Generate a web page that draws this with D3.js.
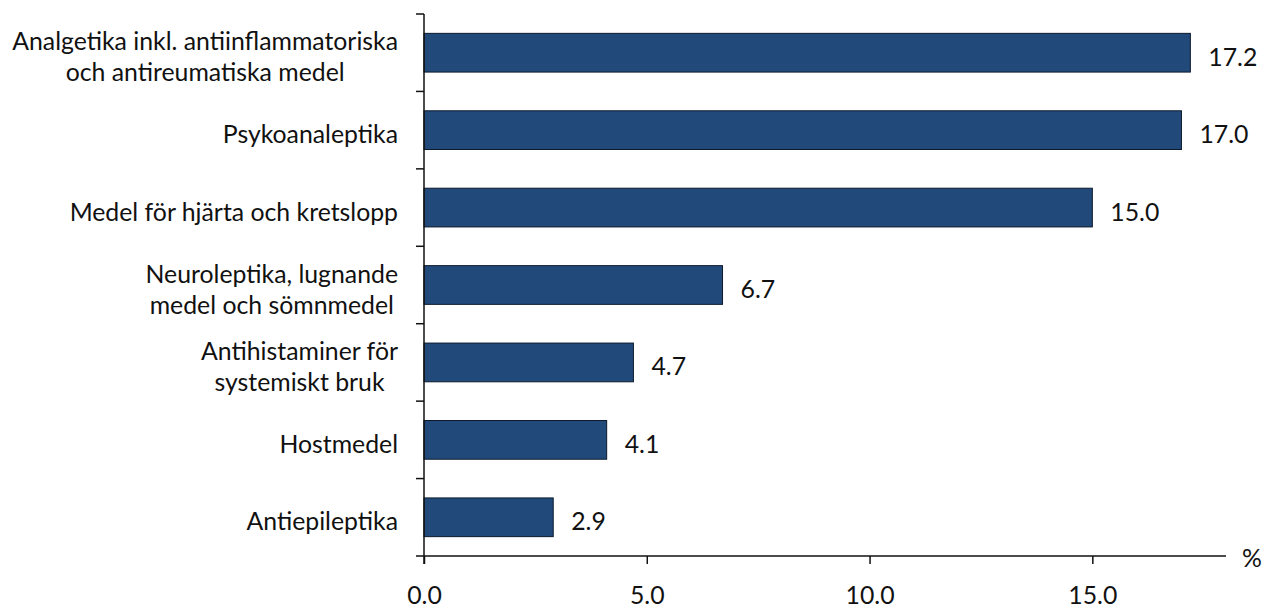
<!DOCTYPE html>
<html>
<head>
<meta charset="utf-8">
<script src="https://cdn.jsdelivr.net/npm/d3@7"></script>
<style>
  body { margin: 0; background: #fff; }
  text { font-family: Lato, "Open Sans", sans-serif; fill: #111; }
</style>
</head>
<body>
<svg width="1266" height="610"></svg>
<script>
// kategorier (radbrytningar som i originalet)
var categories = [
  ["Analgetika inkl. antiinflammatoriska", "och antireumatiska medel"],
  ["Psykoanaleptika"],
  ["Medel för hjärta och kretslopp"],
  ["Neuroleptika, lugnande", "medel och sömnmedel"],
  ["Antihistaminer för", "systemiskt bruk"],
  ["Hostmedel"],
  ["Antiepileptika"]
];
var values = [17.2, 17.0, 15.0, 6.7, 4.7, 4.1, 2.9];
var xTicks = [0, 5, 10, 15];
var xMax = 18;
var unitLabel = "%";

var svg = d3.select("svg"),
    fontSize = 24.8,
    lineGap = 31;

var x = d3.scaleLinear().domain([0, xMax]).range([424, 1226]);
var y = d3.scaleBand()
    .domain(d3.range(categories.length))
    .range([14, 556])
    .paddingInner(0.5)
    .paddingOuter(0.25);

var step = y.step();

// staplar
svg.selectAll(".bar")
    .data(values)
    .enter()
    .append("rect")
    .attr("class", "bar")
    .attr("x", x(0))
    .attr("y", function (d, i) { return y(i); })
    .attr("width", function (d) { return x(d) - x(0); })
    .attr("height", y.bandwidth())
    .attr("fill", "#214a7b")
    .attr("stroke", "#0c1a2c")
    .attr("stroke-width", 1);

// värdeetiketter
svg.selectAll(".val")
    .data(values)
    .enter()
    .append("text")
    .attr("class", "val")
    .attr("x", function (d) { return x(d) + 18; })
    .attr("y", function (d, i) { return y(i) + y.bandwidth() / 2 + 13; })
    .attr("font-size", fontSize)
    .text(function (d) { return d.toFixed(1); });

// x-axel
var xAxis = svg.append("g")
    .attr("transform", "translate(0," + y.range()[1] + ")")
    .call(d3.axisBottom(x)
        .tickValues(xTicks)
        .tickFormat(d3.format(".1f"))
        .tickSize(8)
        .tickSizeOuter(0)
        .tickPadding(22));
xAxis.select(".domain").remove();
xAxis.selectAll(".tick line").attr("stroke", "#111").attr("stroke-width", 1.5);
xAxis.selectAll(".tick text")
    .attr("font-size", fontSize)
    .attr("font-family", "Lato, sans-serif")
    .attr("fill", "#111");

svg.append("line")
    .attr("x1", x(0) - 8).attr("x2", x(xMax))
    .attr("y1", y.range()[1]).attr("y2", y.range()[1])
    .attr("stroke", "#111").attr("stroke-width", 1.5);

svg.append("text")
    .attr("x", x(xMax) + 26)
    .attr("y", y.range()[1] + 11)
    .attr("text-anchor", "middle")
    .attr("font-size", fontSize)
    .text(unitLabel);

// y-axel med streck mellan kategorierna
var bounds = d3.range(categories.length + 1).map(function (i) { return y.range()[0] + i * step; });
svg.append("line")
    .attr("x1", x(0)).attr("x2", x(0))
    .attr("y1", y.range()[0]).attr("y2", y.range()[1] + 8)
    .attr("stroke", "#111").attr("stroke-width", 1.5);
svg.selectAll(".ytick")
    .data(bounds.slice(0, -1))
    .enter()
    .append("line")
    .attr("class", "ytick")
    .attr("x1", x(0) - 8).attr("x2", x(0))
    .attr("y1", function (d) { return d; })
    .attr("y2", function (d) { return d; })
    .attr("stroke", "#111").attr("stroke-width", 1.5);

// kategorietiketter, centrerade som block och högerjusterade mot axeln
var labelRight = 398;
categories.forEach(function (lines, i) {
    var cy = y(i) + y.bandwidth() / 2;
    var g = svg.append("text")
        .attr("font-size", fontSize)
        .attr("text-anchor", "middle");
    var tspans = lines.map(function (ln, k) {
        return g.append("tspan")
            .attr("y", cy + 13 + (k - (lines.length - 1) / 2) * lineGap)
            .text(ln);
    });
    var maxW = d3.max(tspans, function (t) { return t.node().getComputedTextLength(); });
    tspans.forEach(function (t) { t.attr("x", labelRight - maxW / 2); });
});
</script>
</body>
</html>
